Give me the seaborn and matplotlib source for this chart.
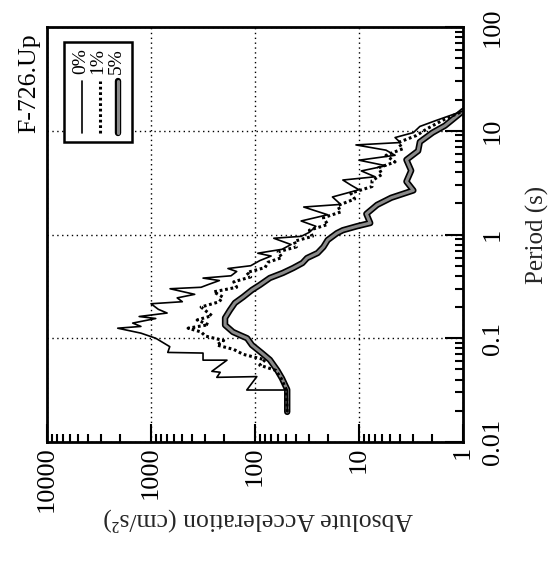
import numpy as np
import pandas as pd
import seaborn as sns
import matplotlib.pyplot as plt
import matplotlib.ticker as mticker
import matplotlib.patheffects as pe
from matplotlib.patches import Rectangle
from matplotlib.lines import Line2D

###############################################################################
# response spectra F-726.Up : period (s) vs absolute acceleration (cm/s^2)
###############################################################################
period_0 = [0.0195, 0.0317, 0.0317, 0.0427, 0.042, 0.047, 0.048, 0.0615, 0.0615, 0.072,
            0.073, 0.083, 0.100, 0.112, 0.125, 0.130, 0.140, 0.155, 0.162, 0.175,
            0.190, 0.215, 0.225, 0.245, 0.265, 0.300, 0.310, 0.330, 0.360, 0.380,
            0.400, 0.440, 0.470, 0.500, 0.560, 0.620, 0.660, 0.720, 0.800, 0.920,
            0.960, 1.05, 1.20, 1.35, 1.55, 1.84, 1.95, 2.30, 2.70, 3.00,
            3.35, 3.60, 4.10, 4.60, 5.20, 5.80, 6.50, 7.30, 7.70, 8.60,
            9.60, 11.0, 12.6, 15.5, 17.0]
accel_0 = [49, 49, 120, 96, 233, 216, 260, 186, 316, 316,
           690, 660, 900, 1250, 2090, 1250, 1500, 900, 1300, 700,
           850, 1000, 500, 560, 380, 656, 330, 280, 220, 316,
           170, 150, 182, 110, 90, 70, 94, 55, 45, 66,
           36, 30, 26, 36, 20, 34, 15, 18, 10, 12,
           14.3, 7, 9.5, 5.5, 10, 4.5, 5.5, 10.7, 4.0, 4.5,
           3.0, 2.6, 1.8, 1.0, 0.85]

period_1 = [0.0195, 0.032, 0.041, 0.049, 0.055, 0.062, 0.070, 0.078, 0.086, 0.095,
            0.105, 0.115, 0.125, 0.135, 0.150, 0.165, 0.180, 0.200, 0.225, 0.250,
            0.280, 0.310, 0.350, 0.390, 0.430, 0.480, 0.540, 0.600, 0.680, 0.760,
            0.860, 0.960, 1.10, 1.25, 1.45, 1.65, 1.90, 2.20, 2.50, 2.90,
            3.30, 3.80, 4.40, 5.00, 5.80, 6.70, 7.70, 9.0, 10.5, 12.5,
            15.5, 17.0]
accel_1 = [49, 50, 56, 63, 90, 80, 130, 160, 233, 200,
           300, 330, 440, 280, 360, 260, 290, 330, 220, 205,
           250, 150, 160, 110, 120, 80, 75, 55, 60, 40,
           42, 28, 30, 20, 22, 15, 16, 11, 12, 7.5,
           7.5, 6, 6.5, 4.5, 5.5, 3.8, 4.2, 2.8, 2.2, 1.6,
           1.0, 0.85]

period_5 = [0.0195, 0.032, 0.041, 0.049, 0.062, 0.072, 0.086, 0.100, 0.107, 0.115,
            0.134, 0.157, 0.187, 0.219, 0.250, 0.292, 0.326, 0.381, 0.426, 0.475,
            0.531, 0.593, 0.663, 0.758, 0.885, 1.03, 1.10, 1.20, 1.29, 1.58,
            1.93, 2.26, 2.66, 3.24, 4.13, 5.25, 6.4, 7.8, 9.6, 11.2,
            15.5, 17.0]
accel_5 = [49, 49, 55, 61, 72, 86, 107, 119, 139, 163,
           194, 194, 174, 156, 130, 107, 90, 72, 54, 43,
           35, 31.6, 25, 22, 20, 16.3, 14.3, 10.5, 7.8, 8.5,
           6.7, 4.9, 3.0, 3.5, 3.15, 3.5, 2.7, 2.6, 1.96, 1.49,
           1.0, 0.85]

damping = ['0%', '1%', '5%']
acc_ticks = [1, 10, 100, 1000, 10000]
acc_labels = ['1', '10', '100', '1000', '10000']
per_ticks = [0.01, 0.1, 1, 10, 100]
per_labels = ['0.01', '0.1', '1', '10', '100']

df = pd.concat([
    pd.DataFrame({'period': period_0, 'accel': accel_0, 'damping': '0%'}),
    pd.DataFrame({'period': period_1, 'accel': accel_1, 'damping': '1%'}),
    pd.DataFrame({'period': period_5, 'accel': accel_5, 'damping': '5%'}),
], ignore_index=True)

sns.set_theme(style='ticks')
plt.rcParams['font.family'] = ['Liberation Serif', 'DejaVu Serif']

# the page is turned: acceleration runs right->left, period bottom->top
fig = plt.figure(figsize=(5.58, 5.63), dpi=100)
ax = fig.add_axes([47/558, 121/563, 416/558, 415/563])
ax.set_xscale('log')
ax.set_yscale('log')

styles = {
    '5%': dict(color='#8a8a8a', lw=2.2, ls='-'),
    '1%': dict(color='black', lw=2.2, ls=(0, (0.9, 0.9))),
    '0%': dict(color='black', lw=1.2, ls='-'),
}
outline = [pe.Stroke(linewidth=4.6, foreground='black'), pe.Normal()]

for d in ['5%', '1%', '0%']:
    sub = df[df['damping'] == d]
    sns.lineplot(data=sub, x='accel', y='period', sort=False, estimator=None,
                 legend=False, ax=ax, **styles[d])
    if d == '5%':
        ax.lines[-1].set_path_effects(outline)

ax.set_xlim(10000, 1)
ax.set_ylim(0.01, 100)

ax.set_xticks(acc_ticks)
ax.set_xticklabels(acc_labels)
ax.set_yticks(per_ticks)
ax.set_yticklabels(per_labels)
ax.xaxis.set_minor_locator(mticker.LogLocator(base=10, subs=np.arange(2, 10), numticks=20))
ax.yaxis.set_minor_locator(mticker.LogLocator(base=10, subs=np.arange(2, 10), numticks=20))
ax.xaxis.set_minor_formatter(mticker.NullFormatter())
ax.yaxis.set_minor_formatter(mticker.NullFormatter())

ax.yaxis.tick_right()
ax.tick_params(which='both', direction='in', color='black', width=1.5,
               bottom=True, top=False, left=False, right=True,
               labelbottom=True, labelleft=False, labelright=True,
               labelsize=19, labelcolor='black')
ax.tick_params(which='major', length=13)
ax.tick_params(which='minor', length=5.5)
ax.tick_params(axis='x', which='major', pad=3.0, labelrotation=90)
ax.tick_params(axis='y', which='major', pad=13.5, labelrotation=90)
for t in ax.yaxis.get_major_ticks():
    t.label1.set_verticalalignment('center')
    t.label2.set_verticalalignment('center')

ax.grid(True, which='major', color='black', lw=1.0, ls=(0, (1, 2.5)))
for s in ax.spines.values():
    s.set_linewidth(2.0)
    s.set_color('black')

ax.set_xlabel('Absolute Acceleration (cm/s²)', fontsize=18.5, rotation=180)
ax.xaxis.set_label_coords(0.507, -0.158)
ax.yaxis.set_label_position('right')
ax.set_ylabel('Period (s)', fontsize=18, rotation=90)
ax.yaxis.set_label_coords(1.152, 0.5)

fig.text(29/558, 1 - 83/563, 'F-726.Up', rotation=90, ha='center', va='center',
         fontsize=18.5, color='black')

# legend box, turned with the page
ax.add_patch(Rectangle((0.042, 0.724), 0.162, 0.240, transform=ax.transAxes,
                       facecolor='white', edgecolor='black', lw=1.8, zorder=5))
for xpos, d in zip([0.084, 0.127, 0.171], damping):
    ln = Line2D([xpos, xpos], [0.745, 0.870], transform=ax.transAxes, zorder=6,
                **styles[d])
    if d == '5%':
        ln.set_path_effects(outline)
    ax.add_line(ln)
    ax.text(xpos - 0.004, 0.918, d, transform=ax.transAxes, rotation=90,
            ha='center', va='center', fontsize=14, color='black', zorder=6)

fig.savefig('out.png', dpi=100)
